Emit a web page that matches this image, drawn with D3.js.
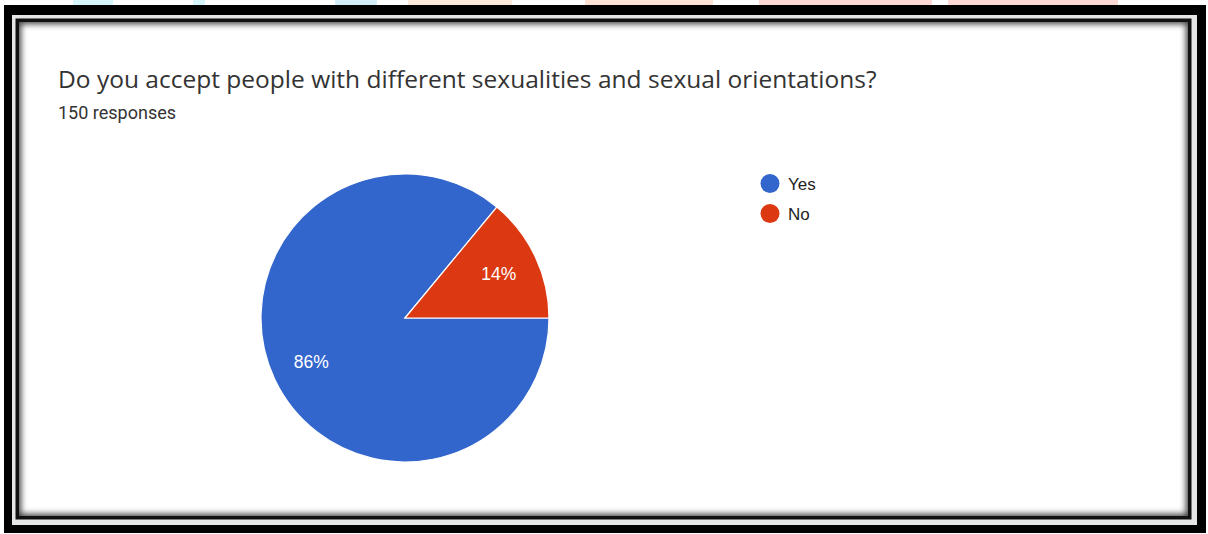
<!DOCTYPE html>
<html>
<head>
<meta charset="utf-8">
<script src="https://cdn.jsdelivr.net/npm/d3@7"></script>
<style>
  html, body { margin: 0; padding: 0; background: #fff; }
  svg { display: block; }
</style>
</head>
<body>
<svg id="chart" width="1208" height="534"></svg>
<script>
// Survey answers
const categories = ["Yes", "No"];
const counts = [129, 21];
const colors = ["#3366cc", "#dc3912"];
const title = "Do you accept people with different sexualities and sexual orientations?";
const subtitle = "150 responses";

const W = 1208, H = 534;
const svg = d3.select("#chart");
const defs = svg.append("defs");

// faint coloured strip along the very top edge
const strip = [
  {x: 73, w: 40, c: "#d6f6fb"}, {x: 193, w: 12, c: "#d6f6fb"}, {x: 335, w: 42, c: "#d3eef8"},
  {x: 408, w: 104, c: "#fdeadb"}, {x: 585, w: 128, c: "#fde3d6"},
  {x: 759, w: 173, c: "#fdd9d6"}, {x: 948, w: 170, c: "#fdd9d6"}
];
svg.selectAll("rect.strip").data(strip).join("rect")
  .attr("class", "strip")
  .attr("x", d => d.x).attr("y", 0).attr("width", d => d.w).attr("height", 5)
  .attr("fill", d => d.c);

// layered frame: thick black band, light rule, dark rule, white panel
svg.append("rect").attr("x", 4).attr("y", 5).attr("width", 1202).attr("height", 528).attr("fill", "#000");
svg.append("rect").attr("x", 12).attr("y", 15).attr("width", 1185).attr("height", 510).attr("fill", "#e6e6e6");
svg.append("rect").attr("x", 15.5).attr("y", 18.5).attr("width", 1176).attr("height", 501).attr("fill", "#111");

const panel = {x: 19, y: 22, w: 1169, h: 494};
defs.append("clipPath").attr("id", "panelClip")
  .append("rect").attr("x", panel.x).attr("y", panel.y).attr("width", panel.w).attr("height", panel.h);
defs.append("filter").attr("id", "soft").attr("x", "-5%").attr("y", "-5%").attr("width", "110%").attr("height", "110%")
  .append("feGaussianBlur").attr("stdDeviation", 3);

svg.append("rect").attr("x", panel.x).attr("y", panel.y).attr("width", panel.w).attr("height", panel.h).attr("fill", "#fff");
svg.append("g").attr("clip-path", "url(#panelClip)")
  .append("rect")
  .attr("x", panel.x - 3).attr("y", panel.y - 3)
  .attr("width", panel.w + 6).attr("height", panel.h + 6)
  .attr("fill", "none").attr("stroke", "#000").attr("stroke-width", 10)
  .attr("opacity", 0.75)
  .attr("filter", "url(#soft)");

// heading
const titleText = svg.append("text")
  .attr("x", 58).attr("y", 88)
  .attr("fill", "#333")
  .style("font-family", "'Open Sans', 'Noto Sans', sans-serif")
  .style("font-size", "24px")
  .text(title);
// fit the heading to its line width
const tw = titleText.node().getComputedTextLength();
titleText.style("font-size", (24 * 819 / tw).toFixed(2) + "px");

svg.append("text")
  .attr("x", 58).attr("y", 119)
  .attr("fill", "#333")
  .style("font-family", "Roboto, sans-serif")
  .style("font-size", "18px")
  .text(subtitle);

// pie
const cx = 405, cy = 318, r = 144;
const data = categories.map((c, i) => ({name: c, value: counts[i], color: colors[i]}));
const total = d3.sum(counts);
const pie = d3.pie().value(d => d.value).sort(null)
  .startAngle(Math.PI / 2).endAngle(Math.PI / 2 + 2 * Math.PI);
const arcs = pie(data);
const arc = d3.arc().innerRadius(0).outerRadius(r);
const labelArc = d3.arc().innerRadius(r * 0.72).outerRadius(r * 0.72);

const g = svg.append("g").attr("transform", `translate(${cx},${cy})`);
g.selectAll("path").data(arcs).join("path")
  .attr("d", arc)
  .attr("fill", d => d.data.color)
  .attr("stroke", "#fff").attr("stroke-width", 1.2);

g.selectAll("text").data(arcs).join("text")
  .attr("transform", d => `translate(${labelArc.centroid(d)})`)
  .attr("text-anchor", "middle")
  .attr("dy", "0.36em")
  .attr("fill", "#fff")
  .style("font-family", "'Liberation Sans', Arial, sans-serif")
  .style("font-size", "17.5px")
  .text(d => d3.format(".0%")(d.data.value / total));

// legend
const legend = svg.append("g").attr("transform", "translate(770,183.5)");
const items = legend.selectAll("g").data(data).join("g")
  .attr("transform", (d, i) => `translate(0,${i * 30})`);
items.append("circle").attr("r", 9.5).attr("fill", d => d.color);
items.append("text")
  .attr("x", 18).attr("dy", "0.36em")
  .attr("fill", "#222")
  .style("font-family", "'Liberation Sans', Arial, sans-serif")
  .style("font-size", "17px")
  .text(d => d.name);
</script>
</body>
</html>
